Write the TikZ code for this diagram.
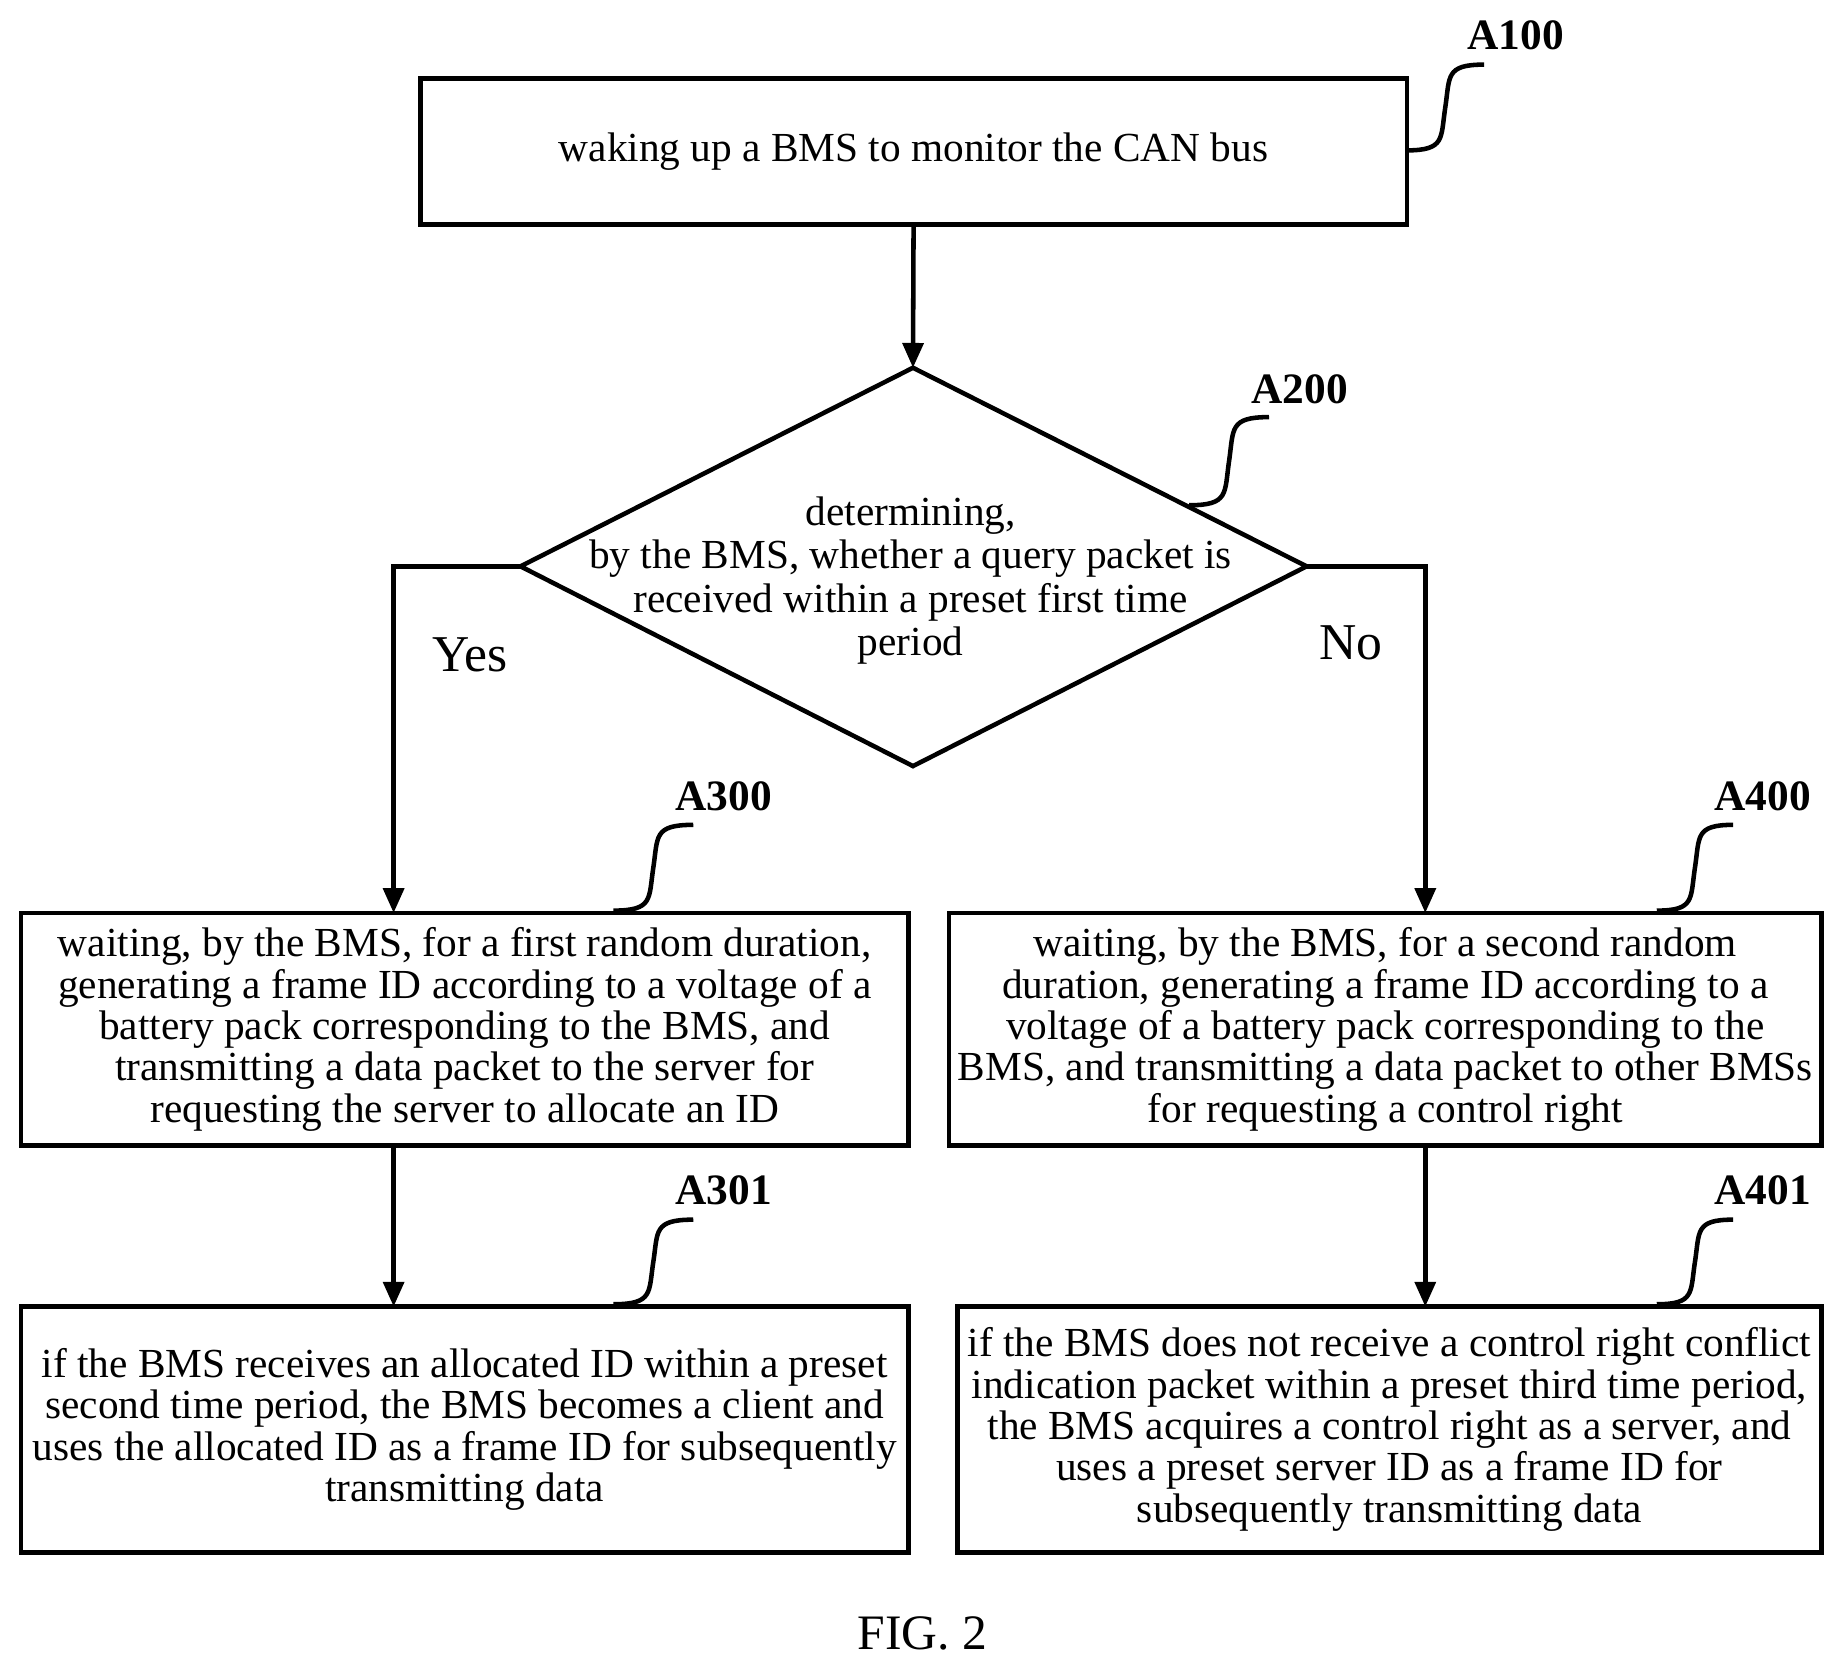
\documentclass[tikz,border=0pt]{standalone}
\usepackage{fontspec}
\setmainfont{Liberation Serif}
\usetikzlibrary{arrows.meta,shapes.geometric}
\begin{document}
\begin{tikzpicture}[x=0.01cm,y=-0.01cm,
 box/.style={draw,line width=1.1pt,align=center,font=\fontsize{10}{10}\selectfont,inner sep=0pt},
 arr/.style={line width=1.1pt,-{Triangle[length=6pt,width=5pt]}},
 lab/.style={font=\fontsize{10.5}{12}\selectfont\bfseries},
 sq/.style={line width=1.1pt},
 big/.style={font=\fontsize{12.5}{14}\selectfont}]
\useasboundingbox (0,0) rectangle (1560,1416);
\node[box,minimum width=8.39cm,minimum height=1.24cm] (a100) at (777.5,129) {waking up a BMS to monitor the CAN bus};
\coordinate (dt) at (777,313); \coordinate (dl) at (443,482);
\coordinate (dr) at (1112,482); \coordinate (db) at (777,652);
\draw[line width=1.1pt] (dt)--(dr)--(db)--(dl)--cycle;
\node[align=center,font=\fontsize{10}{10.5}\selectfont] (a200) at (775,494) {determining,\\by the BMS, whether a query packet is\\received within a preset first time\\period};
\node[box,minimum width=7.55cm,minimum height=1.98cm] (a300) at (395.5,876) {waiting, by the BMS, for a first random duration,\\generating a frame ID according to a voltage of a\\battery pack corresponding to the BMS, and\\transmitting a data packet to the server for\\requesting the server to allocate an ID};
\node[box,minimum width=7.42cm,minimum height=1.98cm] (a400) at (1179,876) {waiting, by the BMS, for a second random\\duration, generating a frame ID according to a\\voltage of a battery pack corresponding to the\\BMS, and transmitting a data packet to other BMSs\\for requesting a control right};
\node[box,minimum width=7.55cm,minimum height=2.09cm] (a301) at (395.5,1216.5) {if the BMS receives an allocated ID within a preset\\second time period, the BMS becomes a client and\\uses the allocated ID as a frame ID for subsequently\\transmitting data};
\node[box,minimum width=7.35cm,minimum height=2.09cm] (a401) at (1182.5,1216.5) {if the BMS does not receive a control right conflict\\indication packet within a preset third time period,\\the BMS acquires a control right as a server, and\\uses a preset server ID as a frame ID for\\subsequently transmitting data};
\draw[arr] (a100.south) -- (dt);
\draw[arr] (dl) -| (335,777);
\draw[arr] (dr) -| (1213,777);
\draw[arr] (335,975) -- (335,1112);
\draw[arr] (1213,975) -- (1213,1112);
\node[big] (yes) at (400,557) {Yes};
\node[big] (no) at (1150,547) {No};
\node[lab] (l100) at (1290,30) {A100};
\node[lab] (l200) at (1106,331) {A200};
\node[lab] (l300) at (616,678) {A300};
\node[lab] (l400) at (1500,678) {A400};
\node[lab] (l301) at (616,1013) {A301};
\node[lab] (l401) at (1500,1013) {A401};
\foreach \x/\y/\u/\v in {1197/128/1263/55, 1012/430/1080/355, 522/775/590/702, 1410/775/1475/702, 522/1110/590/1038, 1410/1110/1475/1038}{
 \pgfmathsetmacro\mx{(\x+\u)/2}\pgfmathsetmacro\my{(\y+\v)/2}
 \draw[sq] (\x,\y) .. controls (\mx,\y) and (\mx-4,\y-10) .. (\mx,\my) .. controls (\mx+4,\v+10) and (\mx,\v) .. (\u,\v);
}
\node[font=\fontsize{12}{14}\selectfont] (fig) at (785,1390) {FIG. 2};
\end{tikzpicture}
\end{document}
